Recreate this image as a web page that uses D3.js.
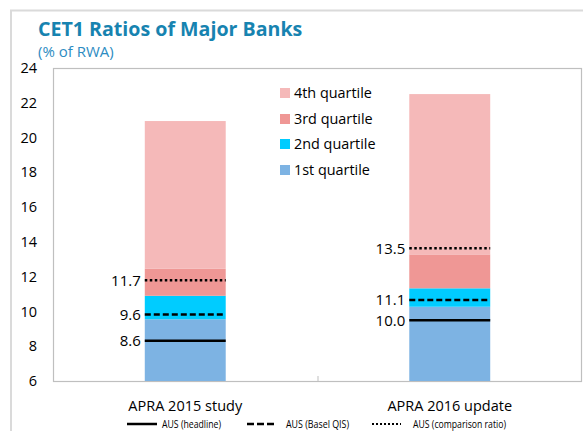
<!DOCTYPE html>
<html>
<head>
<meta charset="utf-8">
<script src="https://cdn.jsdelivr.net/npm/d3@7/dist/d3.min.js"></script>
<style>
  html, body { margin: 0; padding: 0; background: #fff; }
  svg { display: block; }
</style>
</head>
<body>
<script>
// ---- data ----
const categories = ["APRA 2015 study", "APRA 2016 update"];
const quartileNames = ["1st quartile", "2nd quartile", "3rd quartile", "4th quartile"];
const q1 = [9.55, 10.27];   // top of 1st quartile
const q2 = [10.9, 11.33];   // top of 2nd quartile
const q3 = [12.45, 13.28];  // top of 3rd quartile
const q4 = [20.95, 22.5];   // top of 4th quartile
const headline = [8.32, 9.49];
const baselQIS = [9.83, 10.66];
const comparison = [11.79, 13.63];
const headlineLabels = ["8.6", "10.0"];
const baselLabels = ["9.6", "11.1"];
const comparisonLabels = ["11.7", "13.5"];
const yTicks = [6, 8, 10, 12, 14, 16, 18, 20, 22, 24];
const lineLegend = ["AUS (headline)", "AUS (Basel QIS)", "AUS (comparison ratio)"];

const colors = ["#7DB3E3", "#00CCFF", "#EF9795", "#F5B9B9"];
const W = 583, H = 431;
const plot = { left: 53, right: 582, top: 68, bottom: 381 };
const font = "'Open Sans', 'Noto Sans', sans-serif";

const svg = d3.select("body").append("svg").attr("width", W).attr("height", H);

// outer frame
svg.append("path")
  .attr("d", `M11,${H} V10.5 H${W}`)
  .attr("fill", "none").attr("stroke", "#DADADA").attr("stroke-width", 2);

// title
svg.append("text").attr("x", 38).attr("y", 36)
  .attr("font-family", font).attr("font-weight", "bold").attr("font-size", 19.6)
  .attr("fill", "#1783B0").text("CET1 Ratios of Major Banks");
svg.append("text").attr("x", 38).attr("y", 57)
  .attr("font-family", font).attr("font-size", 15)
  .attr("fill", "#2D8CC2").text("(% of RWA)");

const x = d3.scaleBand().domain(categories).range([plot.left, plot.right]).padding(0);
const y = d3.scaleLinear().domain([6, 24]).range([plot.bottom, plot.top]);
const barW = x.bandwidth() * 0.306;
const bx = c => x(c) + x.bandwidth() / 2 - barW / 2;

// plot frame
svg.append("rect").attr("x", plot.left + 0.5).attr("y", plot.top + 0.5)
  .attr("width", plot.right - plot.left - 1).attr("height", plot.bottom - plot.top)
  .attr("fill", "#fff").attr("stroke", "#BFBFBF").attr("stroke-width", 1.2);

// y axis labels
const yAxis = d3.axisLeft(y).tickValues(yTicks).tickSize(0).tickPadding(0).tickFormat(d3.format("d"));
const ya = svg.append("g").attr("transform", `translate(37,0)`).call(yAxis);
ya.select(".domain").remove();
ya.selectAll("text").attr("font-family", font).attr("font-size", 14.5).attr("fill", "#000");

// x axis
const xAxis = d3.axisBottom(x).tickSize(0).tickPadding(0);
const xa = svg.append("g").attr("transform", `translate(0,${plot.bottom})`).call(xAxis);
xa.select(".domain").remove();
xa.selectAll("text").attr("font-family", font).attr("font-size", 14.5).attr("fill", "#000")
  .attr("dy", null).attr("y", 30);
// category separator tick
svg.append("line").attr("x1", x(categories[1]) + 0.5).attr("x2", x(categories[1]) + 0.5)
  .attr("y1", plot.bottom).attr("y2", plot.bottom - 5).attr("stroke", "#BFBFBF");

// stacked bars
const tops = [q1, q2, q3, q4];
categories.forEach((c, i) => {
  let base = 6;
  tops.forEach((arr, k) => {
    svg.append("rect").attr("x", bx(c)).attr("width", barW)
      .attr("y", y(arr[i])).attr("height", y(base) - y(arr[i]))
      .attr("fill", colors[k]);
    base = arr[i];
  });
});

// lines
const lineSpecs = [
  { vals: headline, labels: headlineLabels, dash: null, w: 2.5 },
  { vals: baselQIS, labels: baselLabels, dash: "6,3", w: 2.5 },
  { vals: comparison, labels: comparisonLabels, dash: "2.5,2.5", w: 2.5 }
];
lineSpecs.forEach(s => {
  categories.forEach((c, i) => {
    svg.append("line").attr("x1", bx(c)).attr("x2", bx(c) + barW)
      .attr("y1", y(s.vals[i])).attr("y2", y(s.vals[i]))
      .attr("stroke", "#000").attr("stroke-width", s.w)
      .attr("stroke-dasharray", s.dash);
    svg.append("text").attr("x", bx(c) - 4).attr("y", y(s.vals[i]))
      .attr("dy", "0.36em").attr("text-anchor", "end")
      .attr("font-family", font).attr("font-size", 15).attr("fill", "#000")
      .text(s.labels[i]);
  });
});

// quartile legend
const legY = [170, 144, 119, 93];
quartileNames.forEach((n, k) => {
  svg.append("rect").attr("x", 280).attr("y", legY[k] - 5).attr("width", 10).attr("height", 10)
    .attr("fill", colors[k]);
  svg.append("text").attr("x", 294).attr("y", legY[k]).attr("dy", "0.36em")
    .attr("font-family", font).attr("font-size", 14.4).attr("fill", "#000").text(n);
});

// line legend
const ll = [
  { x1: 127, x2: 157, tx: 162, tw: 59, dash: null, w: 2.5 },
  { x1: 247, x2: 277, tx: 286, tw: 63, dash: "7,3", w: 2.5 },
  { x1: 372, x2: 401, tx: 413, tw: 93, dash: "2,2", w: 2 }
];
lineLegend.forEach((t, i) => {
  const s = ll[i];
  svg.append("line").attr("x1", s.x1).attr("x2", s.x2).attr("y1", 424).attr("y2", 424)
    .attr("stroke", "#000").attr("stroke-width", s.w).attr("stroke-dasharray", s.dash);
  svg.append("text").attr("x", s.tx).attr("y", 427.5)
    .attr("font-family", font).attr("font-size", 11.5).attr("fill", "#000")
    .attr("textLength", s.tw).attr("lengthAdjust", "spacingAndGlyphs").text(t);
});
</script>
</body>
</html>
